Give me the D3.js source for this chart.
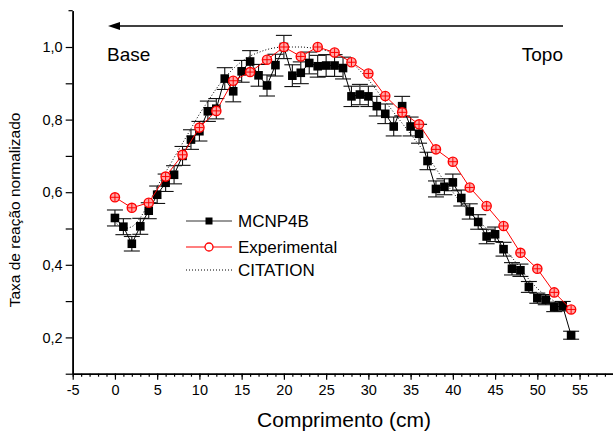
<!DOCTYPE html>
<html>
<head>
<meta charset="utf-8">
<script src="https://cdn.jsdelivr.net/npm/d3@7"></script>
<style>
body{margin:0;background:#fff}
text{font-family:"Liberation Sans",Arial,sans-serif}
</style>
</head>
<body>
<svg></svg>
<script>

// MCNP4B (every 1 cm)
var mcnpX = [0,1,2,3,4,5,6,7,8,9,10,11,12,13,14,15,16,17,18,19,20,21,22,23,24,25,26,27,
  28,29,30,31,32,33,34,35,36,37,38,39,40,41,42,43,44,45,46,47,48,49,50,51,52,53,54];
var mcnpY = [0.529,0.505,0.458,0.506,0.549,0.593,0.626,0.648,0.700,0.745,0.768,0.823,0.830,0.913,
  0.878,0.933,0.960,0.922,0.894,0.950,1.000,0.921,0.929,0.956,0.947,0.949,0.949,0.942,
  0.864,0.869,0.864,0.837,0.816,0.781,0.837,0.781,0.761,0.686,0.609,0.615,0.627,0.584,
  0.547,0.518,0.478,0.484,0.443,0.389,0.385,0.339,0.308,0.304,0.284,0.286,0.206];
var mcnpErr = [0.022,0.022,0.020,0.022,0.022,0.024,0.024,0.025,0.026,0.027,0.027,0.028,0.028,0.030,
  0.029,0.030,0.030,0.030,0.029,0.030,0.032,0.030,0.030,0.030,0.030,0.030,0.030,0.030,
  0.028,0.028,0.028,0.027,0.027,0.026,0.027,0.026,0.026,0.024,0.022,0.022,0.023,0.022,
  0.021,0.020,0.020,0.020,0.019,0.017,0.017,0.015,0.014,0.014,0.013,0.013,0.011];

// Experimental (every 2 cm)
var expX = [0,2,4,6,8,10,12,14,16,18,20,22,24,26,28,30,32,34,36,38,40,42,44,46,48,50,52,54];
var expY = [0.586,0.557,0.571,0.643,0.703,0.778,0.824,0.907,0.931,0.965,1.000,0.974,1.000,0.985,
  0.958,0.927,0.865,0.820,0.787,0.718,0.684,0.613,0.562,0.507,0.433,0.389,0.324,0.277];

// CITATION
var citX = [0,1,2,3,4,5,6,7,8,9,10,11,12,13,14,15,16,17,18,19,20,21,22,23,24,25,26,27,
  28,29,30,31,32,33,34,35,36,37,38,39,40,41,42,43,44,45,46,47,48,49,50,51,52,53];
var citY = [0.520,0.500,0.505,0.530,0.570,0.615,0.655,0.695,0.735,0.775,0.815,0.850,0.885,0.915,
  0.940,0.960,0.975,0.985,0.993,0.998,1.000,1.000,1.000,0.998,0.995,0.990,0.983,0.972,
  0.958,0.935,0.910,0.880,0.850,0.820,0.790,0.760,0.730,0.700,0.665,0.630,0.600,0.570,
  0.545,0.520,0.500,0.470,0.445,0.420,0.390,0.360,0.335,0.315,0.300,0.285];

var legendNames = ["MCNP4B","Experimental","CITATION"];
var xMajor = [-5,0,5,10,15,20,25,30,35,40,45,50,55];
var yMajor = [0.2,0.4,0.6,0.8,1.0];
var yMinor = [0.1,0.3,0.5,0.7,0.9];

var screen = {width:613, height:436};

var svg = d3.select("svg").attr("width",screen.width).attr("height",screen.height);
svg.append("rect").attr("width",screen.width).attr("height",screen.height).attr("fill","#fff");

var xScale = d3.scaleLinear().domain([-5,60]).range([72.7,621.8]);
var yScale = d3.scaleLinear().domain([0.1,1.1]).range([373.7,10.7]);

var comma = function(d){ return d3.format(".1f")(d).replace(".",","); };

// axes
var xMinorAxis = d3.axisBottom(xScale).tickValues(d3.range(-5,61,1)).tickSize(3).tickSizeOuter(0).tickFormat("");
svg.append("g").attr("transform","translate(0,373.7)").call(xMinorAxis);
var xAxis = d3.axisBottom(xScale).tickValues(xMajor).tickSize(6).tickSizeOuter(0).tickPadding(5)
  .tickFormat(function(d){ return String(d); });
svg.append("g").attr("class","axis").attr("transform","translate(0,373.7)").call(xAxis);

var yMinorAxis = d3.axisLeft(yScale).tickValues(yMinor).tickSize(7).tickSizeOuter(0).tickFormat("");
svg.append("g").attr("transform","translate(72.7,0)").call(yMinorAxis);
var yAxis = d3.axisLeft(yScale).tickValues(yMajor).tickSize(7).tickSizeOuter(0).tickFormat(comma).tickPadding(3);
svg.append("g").attr("class","axis").attr("transform","translate(72.7,0)").call(yAxis);
// short stub on top of y axis
svg.append("line").attr("x1",68.5).attr("x2",72.7).attr("y1",yScale(1.1)).attr("y2",yScale(1.1))
  .attr("stroke","#000").attr("stroke-width",1.2);

svg.selectAll(".domain").attr("stroke","#000").attr("stroke-width",1.6);
svg.selectAll(".tick line").attr("stroke","#000").attr("stroke-width",1.2);
svg.selectAll(".axis text").attr("fill","#000").style("font-size","14.5px")
  .style("font-family","'Liberation Sans',Arial,sans-serif");

// axis titles
svg.append("text").attr("x",344).attr("y",427).attr("text-anchor","middle")
  .style("font-size","21px").text("Comprimento (cm)");
svg.append("text").attr("transform","translate(20,210) rotate(-90)").attr("text-anchor","middle")
  .style("font-size","15.5px").text("Taxa de reação normalizado");

// arrow with Base / Topo
svg.append("line").attr("x1",116).attr("x2",563).attr("y1",26).attr("y2",26)
  .attr("stroke","#000").attr("stroke-width",1.4);
svg.append("path").attr("d","M108,26 L120,22 L120,30 Z").attr("fill","#000");
svg.append("text").attr("x",107).attr("y",60.5).style("font-size","19px").text("Base");
svg.append("text").attr("x",563).attr("y",60.5).attr("text-anchor","end").style("font-size","19px").text("Topo");

var plot = svg.append("g");

var mcnp = mcnpX.map(function(x,i){ return {x:x, y:mcnpY[i], e:mcnpErr[i]}; });
var exp = expX.map(function(x,i){ return {x:x, y:expY[i]}; });
var cit = citX.map(function(x,i){ return {x:x, y:citY[i]}; });

var line = d3.line().x(function(d){return xScale(d.x);}).y(function(d){return yScale(d.y);});

// error bars
var eb = plot.selectAll(".eb").data(mcnp).enter().append("g").attr("stroke","#111").attr("stroke-width",1.1);
eb.append("line").attr("x1",function(d){return xScale(d.x);}).attr("x2",function(d){return xScale(d.x);})
  .attr("y1",function(d){return yScale(d.y+d.e);}).attr("y2",function(d){return yScale(d.y-d.e);});
eb.append("line").attr("x1",function(d){return xScale(d.x)-8;}).attr("x2",function(d){return xScale(d.x)+8;})
  .attr("y1",function(d){return yScale(d.y+d.e);}).attr("y2",function(d){return yScale(d.y+d.e);});
eb.append("line").attr("x1",function(d){return xScale(d.x)-8;}).attr("x2",function(d){return xScale(d.x)+8;})
  .attr("y1",function(d){return yScale(d.y-d.e);}).attr("y2",function(d){return yScale(d.y-d.e);});

plot.append("path").datum(mcnp).attr("d",line).attr("fill","none").attr("stroke","#000").attr("stroke-width",1);
plot.selectAll(".sq").data(mcnp).enter().append("rect")
  .attr("x",function(d){return xScale(d.x)-4.3;}).attr("y",function(d){return yScale(d.y)-4.3;})
  .attr("width",8.6).attr("height",8.6).attr("fill","#000");

plot.append("path").datum(cit).attr("d",line.curve(d3.curveMonotoneX)).attr("fill","none")
  .attr("stroke","#000").attr("stroke-width",1).attr("stroke-dasharray","1,2");
line.curve(d3.curveLinear);

plot.append("path").datum(exp).attr("d",line).attr("fill","none").attr("stroke","#f00").attr("stroke-width",1);
var ci = plot.selectAll(".ci").data(exp).enter().append("g")
  .attr("transform",function(d){return "translate("+xScale(d.x)+","+yScale(d.y)+")";});
ci.append("circle").attr("r",4.6).attr("fill","#ffa8a8").attr("stroke","#f00").attr("stroke-width",1.4);
ci.append("path").attr("d","M-4,0H4M0,-4V4").attr("stroke","#f00").attr("stroke-width",1);

// legend
var lg = svg.append("g");
var rows = [221,247,270];
lg.append("line").attr("x1",186).attr("x2",232).attr("y1",rows[0]).attr("y2",rows[0]).attr("stroke","#333").attr("stroke-width",1.2);
lg.append("rect").attr("x",205.5).attr("y",rows[0]-3.5).attr("width",7).attr("height",7).attr("fill","#000");
lg.append("line").attr("x1",186).attr("x2",232).attr("y1",rows[1]).attr("y2",rows[1]).attr("stroke","#f00").attr("stroke-width",1.2);
lg.append("circle").attr("cx",209).attr("cy",rows[1]).attr("r",4).attr("fill","#fff").attr("stroke","#f00").attr("stroke-width",1.3);
lg.append("line").attr("x1",186).attr("x2",232).attr("y1",rows[2]).attr("y2",rows[2]).attr("stroke","#000").attr("stroke-width",1).attr("stroke-dasharray","1,2");
lg.selectAll(".lt").data(legendNames).enter().append("text")
  .attr("x",238).attr("y",function(d,i){return rows[i]+6.3;}).style("font-size","17px").text(function(d){return d;});

</script>
</body>
</html>
